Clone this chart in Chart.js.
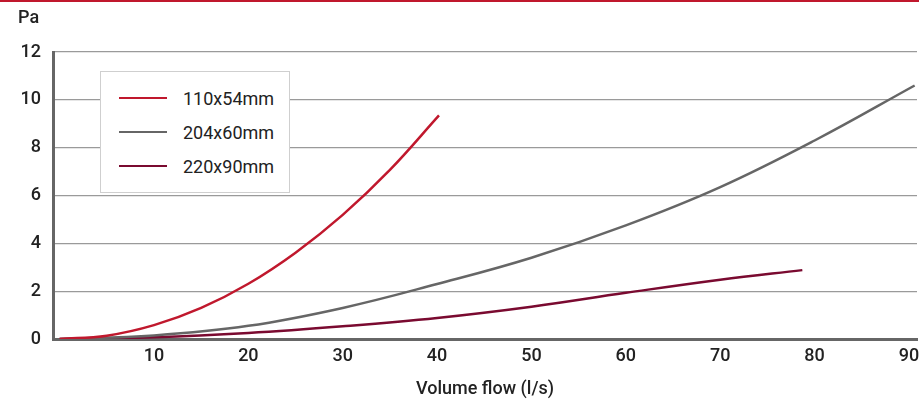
<!DOCTYPE html>
<html>
<head>
<meta charset="utf-8">
<script src="https://cdn.jsdelivr.net/npm/chart.js@4"></script>
<style>
  html, body { margin: 0; padding: 0; background: #fff; }
  #wrap { position: relative; width: 919px; height: 400px; border-top: 2px solid #c0182d; box-sizing: border-box; }
  #legend {
    position: absolute; left: 100px; top: 69px; width: 190px; height: 122px;
    background: #fff; border: 1px solid #cfcfcf; box-sizing: border-box;
    font-family: Roboto, sans-serif; font-size: 18px; color: #222;
    padding-top: 9px;
  }
  #legend .row { display: flex; align-items: center; height: 34px; }
  #legend .swatch { width: 48px; height: 2.5px; margin-left: 18px; margin-right: 16px; }
</style>
</head>
<body>
<div id="wrap">
  <canvas id="myChart" width="919" height="398"></canvas>
  <div id="legend"></div>
</div>
<script>
const seriesNames = ["110x54mm", "204x60mm", "220x90mm"];

const flowRed = [0, 5, 10, 15, 20, 25, 30, 35, 40.2];
const paRed = [0, 0.14, 0.58, 1.3, 2.31, 3.61, 5.19, 7.07, 9.35];

const flowGray = [0, 10, 20, 30, 40, 50, 60, 70, 80, 90.6];
const paGray = [0, 0.15, 0.55, 1.3, 2.3, 3.4, 4.75, 6.35, 8.3, 10.6];

const flowMaroon = [0, 10, 20, 30, 40, 50, 60, 70, 78.7];
const paMaroon = [0, 0.07, 0.25, 0.53, 0.88, 1.35, 1.93, 2.48, 2.88];

const xTicks = [10, 20, 30, 40, 50, 60, 70, 80, 90];

const colors = ["#c0182d", "#666666", "#7a0a30"];

function pts(xs, ys) {
  return xs.map((x, i) => ({ x: x, y: ys[i] }));
}

const ctx = document.getElementById("myChart");

const paLabel = {
  id: "paLabel",
  afterDraw(chart) {
    const c = chart.ctx;
    c.save();
    c.font = "500 18px Roboto";
    c.fillStyle = "#222";
    c.textBaseline = "middle";
    c.fillText("Pa", 18, 16);
    c.restore();
  },
};

const chart = new Chart(ctx, {
  type: "scatter",
  data: {
    datasets: [
      { label: seriesNames[0], data: pts(flowRed, paRed), borderColor: colors[0] },
      { label: seriesNames[1], data: pts(flowGray, paGray), borderColor: colors[1] },
      { label: seriesNames[2], data: pts(flowMaroon, paMaroon), borderColor: colors[2] },
    ].map((d) => ({
      ...d,
      showLine: true,
      backgroundColor: d.borderColor,
      borderWidth: 2.5,
      pointRadius: 0,
      tension: 0.4,
    })),
  },
  options: {
    responsive: false,
    animation: false,
    layout: { padding: { top: 50, right: 2, left: 0, bottom: 0 } },
    scales: {
      x: {
        type: "linear",
        min: -0.7,
        max: 90.85,
        afterBuildTicks: (axis) => {
          axis.ticks = xTicks.map((v) => ({ value: v }));
        },
        grid: { display: false, drawTicks: false },
        border: { color: "#666", width: 3 },
        ticks: {
          padding: 7,
          color: "#222",
          font: { family: "Roboto", size: 18, weight: "500" },
        },
        title: {
          display: true,
          text: "Volume flow (l/s)",
          color: "#222",
          padding: { top: 11, bottom: 0 },
          font: { family: "Roboto", size: 18, weight: "500" },
        },
        afterFit: (axis) => {
          axis.height = 61;
          axis.paddingLeft = 0;
          axis.paddingRight = 0;
        },
      },
      y: {
        min: 0,
        max: 12,
        ticks: {
          stepSize: 2,
          padding: 12,
          color: "#222",
          font: { family: "Roboto", size: 18, weight: "500" },
        },
        grid: { color: "#9a9a9a", lineWidth: 1.2, drawTicks: false },
        border: { color: "#666", width: 3 },
        afterFit: (axis) => {
          axis.width = 53;
        },
      },
    },
    plugins: {
      legend: { display: false },
      tooltip: { enabled: false },
    },
  },
  plugins: [paLabel],
});

// legend box built from the datasets
const legendEl = document.getElementById("legend");
chart.data.datasets.forEach((ds) => {
  const row = document.createElement("div");
  row.className = "row";
  const sw = document.createElement("span");
  sw.className = "swatch";
  sw.style.background = ds.borderColor;
  const txt = document.createElement("span");
  txt.textContent = ds.label;
  row.appendChild(sw);
  row.appendChild(txt);
  legendEl.appendChild(row);
});
</script>
</body>
</html>
